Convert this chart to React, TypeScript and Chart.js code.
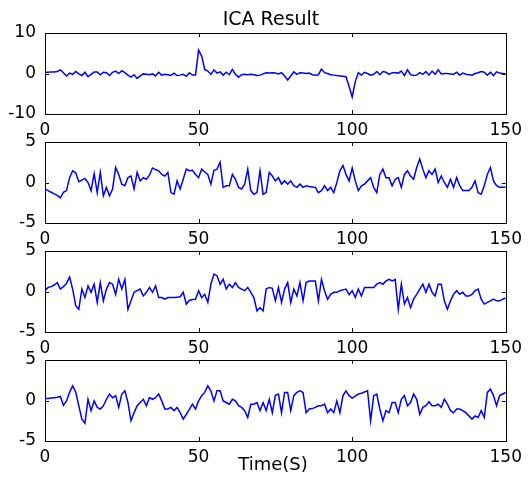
import React, { useEffect, useRef } from 'react';
import { Chart, registerables } from 'chart.js';

Chart.register(...registerables);

const TITLE = 'ICA Result';
const X_LABEL = 'Time(S)';
const X_TICKS = [0, 50, 100, 150];
const Y_TICKS_1 = [-10, 0, 10];
const Y_TICKS_234 = [-5, 0, 5];

const S1 = [
  0.3, 0.3, 0.4, 0.4, 0.5, 0.9, 0.2, -0.6, 0.1, -0.2,
  0.5, -0.1, -0.5, 0.3, -0.8, -0.2, 0.4, 0.4, -0.3, 0.3,
  0.2, -0.5, 0.3, 0.6, 0.0, 0.7, 0.2, -0.4, -0.9, -0.3,
  -1.2, -0.6, -0.1, -0.2, -0.3, -0.1, -0.6, 0.3, -0.4, -0.2,
  -0.3, -0.5, 0.1, -0.5, -0.4, -0.2, -0.7, 0.2, -0.4, -0.4,
  5.8, 4.3, 1.0, 0.6, -0.2, 0.9, 0.1, 0.4, -0.4, 0.3,
  -0.3, 1.0, -0.2, -0.9, -0.3, -0.2, -0.3, -0.2, -0.3, -0.5,
  -0.4, -0.1, 0.2, 0.1, 0.2, 0.1, -0.1, 0.2, -0.6, -1.6,
  -0.6, 0.4, -0.2, 0.2, 0.1, 0.0, 0.1, -0.3, -0.4, -0.3,
  1.1, 0.2, 0.0, -0.3, -0.4, -0.5, -0.6, -0.7, -0.8, -3.2,
  -5.8, -2.0, 0.2, -0.4, 0.3, 0.0, -0.4, -0.2, 0.5, -0.3,
  0.5, 0.3, -0.2, 0.2, 0.2, 0.1, 0.6, -0.5, 0.9, -0.3,
  -0.5, -0.4, 0.2, -0.2, 0.5, -0.4, 0.6, -0.2, 0.9, -0.1,
  0.0, 0.0, -0.1, -0.2, 0.3, -0.4, 0.1, -0.2, -0.3, -0.4,
  0.0, 0.2, 0.5, 0.3, -0.4, 0.3, -0.5, 0.4, 0.1, 0.0,
  -0.1,
];

const S2 = [
  -0.8, -1.0, -1.2, -1.4, -1.6, -1.9, -1.2, -1.0, 0.6, 1.45,
  1.2, 0.1, 0.3, 0.5, 0.0, -1.0, 1.1, -1.25, 1.25, -1.65,
  -0.6, -1.65, -0.8, 1.85, 1.0, -0.2, -0.4, 0.6, 0.8, -0.8,
  1.25, 0.2, 0.6, 0.4, 0.9, 1.8, 1.6, 1.45, 1.0, 0.8,
  1.25, -1.25, -1.45, 0.2, -0.8, 0.4, 1.65, 1.45, 1.5, 1.0,
  0.6, 1.65, 1.3, 1.0, -0.2, 1.5, 1.65, 2.5, -0.6, -0.4,
  -0.4, 1.0, 0.4, -0.6, -0.8, -0.2, 1.65, -1.0, -1.45, -1.25,
  1.45, -1.45, -1.25, 1.25, 0.8, 0.2, 0.6, -0.2, 0.2, -0.2,
  0.2, -0.4, -0.6, -0.2, -0.6, -0.4, -0.5, -0.55, -0.6, -1.25,
  -1.0, -0.4, -1.0, -0.6, -1.25, 0.0, 1.45, 2.1, 1.0, 0.2,
  1.8, 0.2, -1.0, -0.4, -0.2, 0.2, 0.6, -0.6, -1.25, 1.0,
  1.65, 0.6, 0.6, -0.4, 0.4, 0.6, -0.6, 1.0, 1.45, 0.8,
  0.4, 1.85, 2.9, 1.65, 0.6, 1.45, 1.0, 1.65, 0.0, 0.8,
  0.0, -0.6, 0.4, -0.6, 0.6, -0.4, -1.0, -1.0, -1.0, -0.6,
  0.2, -1.25, -1.45, -0.4, 1.0, 1.85, 0.2, -0.4, -0.6, -0.6,
  -0.6,
];

const S3 = [
  0.1, 0.5, 0.6, 0.8, 1.1, 0.3, 0.6, 1.0, 1.8, 0.3,
  -1.75, -2.2, 0.3, -0.75, 0.7, -0.1, 0.9, -1.35, 1.1, -1.15,
  0.3, 1.1, 0.9, -0.35, 1.5, 0.3, 1.5, -2.2, -1.15, -0.1,
  0.1, 0.3, -0.55, -0.1, 0.5, -0.1, 0.7, -0.75, -0.75, -0.95,
  -0.75, -0.75, -0.75, -0.7, -0.65, -0.1, -1.55, -1.1, -1.0, -0.95,
  0.1, -0.75, -0.35, -1.35, 0.9, 2.15, 1.95, 0.9, 1.5, 0.3,
  0.9, 0.5, 1.1, 0.5, 0.3, 0.1, 0.5, -0.1, -0.75, -2.4,
  -2.0, -2.4, 0.3, 0.5, 0.4, -1.15, 0.5, -1.35, 0.3, 1.1,
  -1.35, 0.3, -0.55, 1.1, -1.15, 1.1, 1.3, 1.3, 1.3, -1.15,
  1.5, 0.1, -0.95, -0.35, -0.1, -0.1, 0.1, 0.2, 0.3, -0.4,
  0.1, -0.75, 0.3, -0.55, 0.5, 0.5, 0.5, 0.5, 0.9, 1.1,
  0.9, 1.3, 1.5, 1.3, 1.5, -2.2, 0.9, -1.55, -0.75, -2.0,
  -0.95, -0.35, 0.3, 0.9, -0.1, 0.9, -0.1, -0.55, 0.9, 0.9,
  -1.15, -2.2, -1.15, -0.35, 0.1, -0.35, -0.1, -0.55, -0.55, -0.35,
  0.1, 0.3, -0.95, -1.55, -1.35, -1.15, -0.95, -1.15, -1.15, -0.95,
  -0.8,
];

const S4 = [
  0.25, 0.25, 0.3, 0.35, 0.4, 0.5, -0.6, -0.05, 1.0, 1.8,
  1.05, -0.65, -2.3, -2.8, 0.15, -1.25, -0.05, -0.85, -1.05, -0.65,
  0.15, 0.8, 0.35, 0.6, -0.85, 0.8, 1.2, -0.25, -2.5, -1.5,
  -0.65, -0.25, 0.15, -0.65, 0.35, 0.15, 0.35, 0.8, -0.05, -1.05,
  -1.05, -0.85, -1.25, -0.85, -1.5, -2.3, -1.7, -1.1, -0.45, -1.05,
  -0.05, 0.6, 1.0, 1.8, 1.2, -0.05, 1.2, 1.2, -0.05, -0.25,
  -0.45, 0.15, -0.05, -0.65, -0.85, -1.25, -2.1, -0.45, -0.45, -0.25,
  -1.25, -0.25, -1.25, 0.15, -1.5, 0.65, 0.8, -1.5, 1.0, 1.0,
  -1.25, 0.6, 1.0, 1.2, 1.0, -1.5, -1.05, -1.0, -0.85, -0.65,
  -0.65, -0.45, -1.5, -1.05, -1.5, -0.05, -1.5, 0.6, 1.2, 0.6,
  0.3, 0.55, 0.8, 0.9, 1.05, 1.2, -2.5, 0.6, 0.8, -1.05,
  -2.5, -1.25, -1.5, -0.25, -0.25, -1.5, 0.15, 0.6, -0.65, -0.25,
  0.8, 0.15, -1.7, -0.85, -0.65, -0.15, -0.65, -0.65, -0.45, -0.85,
  0.15, -0.45, -1.25, -1.5, -1.05, -1.05, -1.25, -1.5, -1.9, -2.3,
  -1.9, -2.1, -1.25, -2.1, 1.0, 1.4, 0.6, -0.65, 0.6, 0.8,
  1.0,
];

// layout (pixels)
const W = 528;
const H = 480;
const PLOT_LEFT = 45;
const PLOT_RIGHT = 512;
const X_AXIS_H = 24;
const PANELS = [
  { data: S1, min: -10, max: 10, ticks: Y_TICKS_1, top: 33, bottom: 114 },
  { data: S2, min: -5, max: 5, ticks: Y_TICKS_234, top: 142, bottom: 223 },
  { data: S3, min: -5, max: 5, ticks: Y_TICKS_234, top: 251, bottom: 332 },
  { data: S4, min: -5, max: 5, ticks: Y_TICKS_234, top: 360, bottom: 441 },
];
const FONT = { family: '"DejaVu Sans", Arial, sans-serif', size: 17 };

const boxPlugin = {
  id: 'matlabBox',
  afterDraw(chart: any) {
    const { ctx, chartArea } = chart;
    const { left, right, top, bottom } = chartArea;
    const xs = chart.scales.x;
    const ys = chart.scales.y;
    ctx.save();
    ctx.strokeStyle = '#000';
    ctx.lineWidth = 1;
    ctx.beginPath();
    const tl = 4;
    for (const v of X_TICKS) {
      const px = Math.round(xs.getPixelForValue(v)) + 0.5;
      ctx.moveTo(px, bottom);
      ctx.lineTo(px, bottom - tl);
      ctx.moveTo(px, top);
      ctx.lineTo(px, top + tl);
    }
    for (const t of ys.ticks) {
      const py = Math.round(ys.getPixelForValue(t.value)) + 0.5;
      ctx.moveTo(left, py);
      ctx.lineTo(left + tl, py);
      ctx.moveTo(right, py);
      ctx.lineTo(right - tl, py);
    }
    ctx.stroke();
    ctx.strokeRect(Math.round(left) + 0.5, Math.round(top) + 0.5, Math.round(right - left), Math.round(bottom - top));
    ctx.restore();
  },
};

function Panel({ idx }: { idx: number }) {
  const ref = useRef<HTMLCanvasElement>(null);
  useEffect(() => {
    const p = PANELS[idx];
    const points = p.data.map((v, i) => ({ x: i, y: v }));
    const chart = new Chart(ref.current as HTMLCanvasElement, {
      type: 'line',
      data: {
        datasets: [
          {
            data: points,
            borderColor: '#0000ff',
            borderWidth: 1.5,
            pointRadius: 0,
            tension: 0,
            fill: false,
          },
        ],
      },
      options: {
        animation: false,
        responsive: false,
        maintainAspectRatio: false,
        devicePixelRatio: 1,
        events: [],
        layout: {
          padding: {
            left: 0,
            right: W - PLOT_RIGHT,
            top: p.top,
            bottom: H - p.bottom - X_AXIS_H,
          },
        },
        plugins: {
          legend: { display: false },
          tooltip: { enabled: false },
          title: { display: false },
        },
        scales: {
          x: {
            type: 'linear',
            min: 0,
            max: 150,
            afterBuildTicks: (s: any) => {
              s.ticks = X_TICKS.map((v) => ({ value: v }));
            },
            afterFit: (s: any) => {
              s.height = X_AXIS_H;
            },
            grid: { display: false, drawTicks: false },
            border: { display: false },
            ticks: {
              padding: 6,
              color: '#000',
              font: FONT,
              maxRotation: 0,
              autoSkip: false,
            },
          },
          y: {
            type: 'linear',
            min: p.min,
            max: p.max,
            afterBuildTicks: (s: any) => {
              s.ticks = p.ticks.map((v) => ({ value: v }));
            },
            afterFit: (s: any) => {
              s.width = PLOT_LEFT;
            },
            grid: { display: false, drawTicks: false },
            border: { display: false },
            ticks: {
              padding: 9,
              color: '#000',
              font: FONT,
              autoSkip: false,
            },
          },
        },
      },
      plugins: [boxPlugin],
    } as any);
    return () => chart.destroy();
  }, [idx]);
  return (
    <canvas
      ref={ref}
      width={W}
      height={H}
      style={{ position: 'absolute', left: 0, top: 0, width: W, height: H }}
    />
  );
}

export default function App() {
  return (
    <div
      style={{
        position: 'absolute',
        left: 0,
        top: 0,
        width: W,
        height: H,
        background: '#fff',
        overflow: 'hidden',
      }}
    >
      {PANELS.map((_, i) => (
        <Panel key={i} idx={i} />
      ))}
      <div
        style={{
          position: 'absolute',
          left: 171,
          width: 200,
          top: 9,
          textAlign: 'center',
          fontFamily: '"DejaVu Sans", Arial, sans-serif',
          fontSize: 19,
          lineHeight: '19px',
          color: '#000',
        }}
      >
        {TITLE}
      </div>
      <div
        style={{
          position: 'absolute',
          left: 173,
          width: 200,
          top: 455,
          textAlign: 'center',
          fontFamily: '"DejaVu Sans", Arial, sans-serif',
          fontSize: 18,
          lineHeight: '18px',
          color: '#000',
        }}
      >
        {X_LABEL}
      </div>
    </div>
  );
}
